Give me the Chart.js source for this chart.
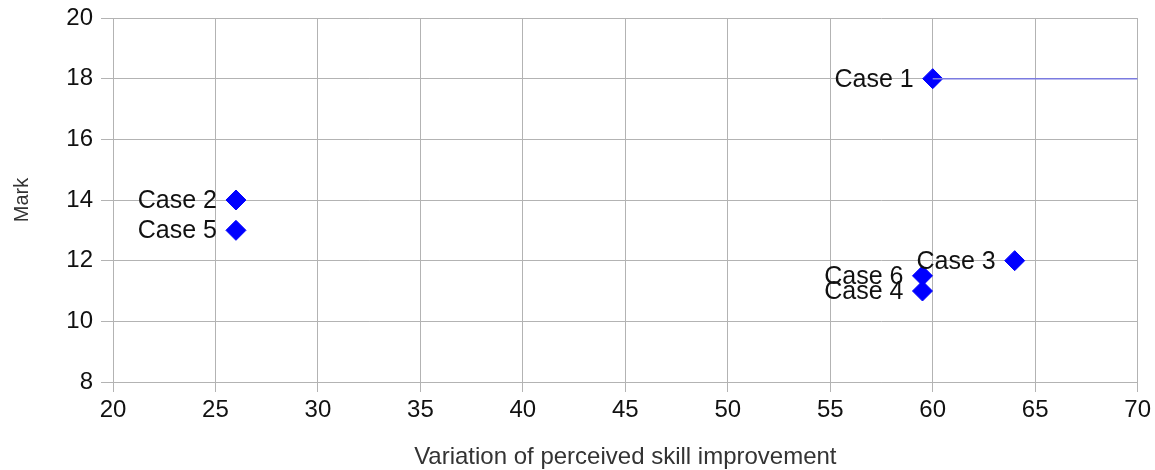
<!DOCTYPE html>
<html>
<head>
<meta charset="utf-8">
<script src="https://cdn.jsdelivr.net/npm/chart.js@4"></script>
<style>
  html, body { margin: 0; padding: 0; background: #fff; }
  #wrap { width: 1155px; height: 470px; }
</style>
</head>
<body>
<div id="wrap"><canvas id="skillChart"></canvas></div>
<script>
// case data
const caseNames = ["Case 1", "Case 2", "Case 3", "Case 4", "Case 5", "Case 6"];
const skillVariation = [60, 26, 64, 59.5, 26, 59.5];
const marks = [18, 14, 12, 11, 13, 11.5];

// thin line running right from Case 1
const lineX = [60, 70];
const lineY = [18, 18];

const xRange = [20, 70];
const yRange = [8, 20];

const gridColor = "#b3b3b3";
const fontFamily = "'Liberation Sans', Arial, sans-serif";

// draws "Case n" to the left of each point
const caseLabels = {
  id: "caseLabels",
  afterDatasetsDraw(chart) {
    const ctx = chart.ctx;
    const meta = chart.getDatasetMeta(1);
    ctx.save();
    ctx.font = "25px " + fontFamily;
    ctx.fillStyle = "#111";
    ctx.textAlign = "right";
    ctx.textBaseline = "middle";
    meta.data.forEach(function (pt, i) {
      ctx.fillText(caseNames[i], pt.x - 19, pt.y + 1);
    });
    ctx.restore();
  },
};

document.addEventListener("DOMContentLoaded", function () {
  const ctx = document.getElementById("skillChart").getContext("2d");

  new Chart(ctx, {
    type: "scatter",
    data: {
      datasets: [
        {
          type: "line",
          data: lineX.map((x, i) => ({ x: x, y: lineY[i] })),
          borderColor: "#7b7be0",
          borderWidth: 1.5,
          pointRadius: 0,
          fill: false,
        },
        {
          data: skillVariation.map((x, i) => ({ x: x, y: marks[i] })),
          backgroundColor: "#0000ff",
          borderColor: "#0000ff",
          pointStyle: "rectRot",
          pointRadius: 10,
          pointHoverRadius: 10,
        },
      ],
    },
    options: {
      responsive: true,
      maintainAspectRatio: false,
      animation: false,
      layout: { padding: { top: 18, right: 17, left: 0, bottom: 0 } },
      plugins: {
        legend: { display: false },
        tooltip: { enabled: false },
      },
      scales: {
        x: {
          type: "linear",
          min: xRange[0],
          max: xRange[1],
          grid: { color: gridColor, tickLength: 10, tickColor: gridColor },
          border: { color: gridColor },
          ticks: {
            stepSize: 5,
            padding: 4,
            color: "#111",
            font: { family: fontFamily, size: 24 },
          },
          title: {
            display: true,
            text: "Variation of perceived skill improvement",
            color: "#333",
            font: { family: fontFamily, size: 24 },
            padding: { top: 6, bottom: -2 },
          },
          afterFit(scale) { scale.height = 88; },
        },
        y: {
          min: yRange[0],
          max: yRange[1],
          grid: { color: gridColor, tickLength: 12, tickColor: gridColor },
          border: { color: gridColor },
          ticks: {
            stepSize: 2,
            padding: 8,
            color: "#111",
            font: { family: fontFamily, size: 24 },
          },
          title: {
            display: true,
            text: "Mark",
            color: "#333",
            font: { family: fontFamily, size: 20 },
            padding: { top: 10, bottom: 0 },
          },
          afterFit(scale) {
            scale.width = 113;
            scale.paddingTop = 0;
          },
        },
      },
    },
    plugins: [caseLabels],
  });
});
</script>
</body>
</html>
